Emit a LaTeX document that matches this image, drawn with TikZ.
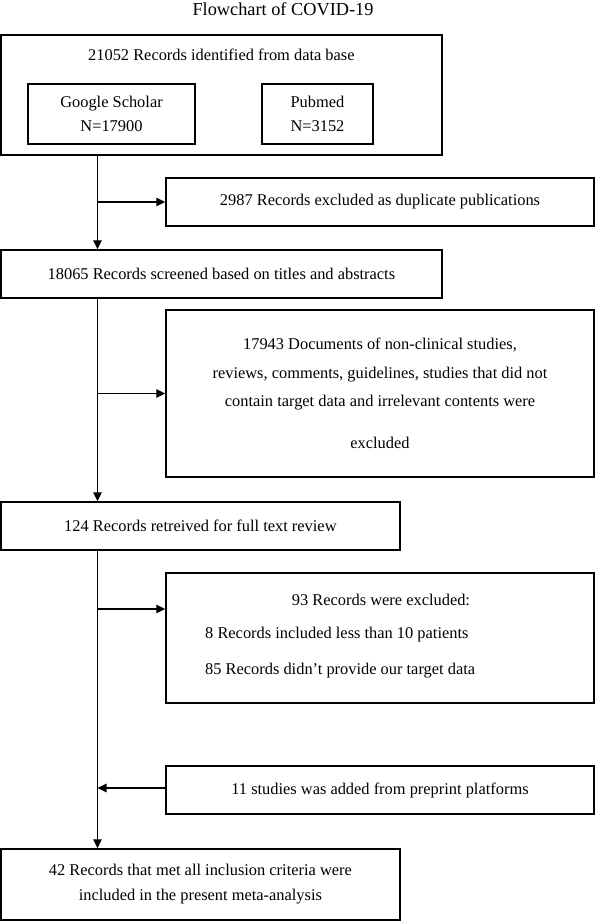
\documentclass[tikz,border=0pt]{standalone}
\usepackage{fontspec}
\setmainfont{Liberation Serif}
\usetikzlibrary{arrows.meta}
\tikzset{
  box/.style={draw, line width=1.5pt, inner sep=0pt, align=center,
    font=\fontsize{16.4}{24}\selectfont},
  txt/.style={inner sep=0pt, font=\fontsize{16.4}{24}\selectfont},
  arr/.style={line width=1.1pt, -{Triangle[length=9pt,width=8.5pt]}}
}
\begin{document}
\begin{tikzpicture}[x=1pt,y=-1pt]
\useasboundingbox (0,0) rectangle (595,921);
\node[txt, font=\fontsize{18.3}{22}\selectfont] (title) at (283,9) {Flowchart of COVID-19};
% box 1
\node[box, minimum width=441.2pt, minimum height=120pt] (b1) at (221.4,95) {};
\node[txt] (t1) at (221.4,55) {21052 Records identified from data base};
\node[box, minimum width=167pt, minimum height=60pt] (gs) at (111.5,114) {Google Scholar\\N=17900};
\node[box, minimum width=111pt, minimum height=60pt] (pm) at (317.5,114) {Pubmed\\N=3152};
% other boxes
\node[box, minimum width=428pt, minimum height=48pt] (b2) at (380,202) {2987 Records excluded as duplicate publications};
\node[box, minimum width=441.2pt, minimum height=48pt] (b3) at (221.4,274) {18065 Records screened based on titles and abstracts};
\node[box, minimum width=428pt, minimum height=167pt, font=\fontsize{16.4}{28.5}\selectfont] (b4) at (380,393.5)
  {17943 Documents of non-clinical studies,\\reviews, comments, guidelines, studies that did not\\contain target data and irrelevant contents were\\[13.5pt]excluded};
\node[box, minimum width=399.2pt, minimum height=48pt] (b5) at (200.4,526) {124 Records retreived for full text review};
\node[box, minimum width=428pt, minimum height=130pt] (b6) at (380,638) {};
\node[txt] (t6a) at (381,600) {93 Records were excluded:};
\node[txt, anchor=west] (t6b) at (205,635) {8 Records included less than 10 patients};
\node[txt, anchor=west] (t6c) at (205,671) {85 Records didn’t provide our target data};
\node[box, minimum width=428pt, minimum height=48pt] (b7) at (380,790) {11 studies was added from preprint platforms};
\node[box, minimum width=399.2pt, minimum height=71pt, font=\fontsize{16.4}{25}\selectfont] (b8) at (200.4,884.5)
  {42 Records that met all inclusion criteria were\\included in the present meta-analysis};
% spine
\coordinate (sp) at (97.5,0);
\draw[arr] (b1.south -| sp) -- (b3.north -| sp);
\draw[arr] (b2.west -| sp) -- (b2.west);
\draw[arr] (b3.south -| sp) -- (b5.north -| sp);
\draw[arr] (b4.west -| sp) -- (b4.west);
\draw[arr] (b5.south -| sp) -- (b8.north -| sp);
\draw[arr] ([yshift=29pt]b6.west -| sp) -- ([yshift=29pt]b6.west);
\draw[arr] ([yshift=2pt]b7.west) -- ([yshift=2pt]b7.west -| sp);
\end{tikzpicture}
\end{document}
